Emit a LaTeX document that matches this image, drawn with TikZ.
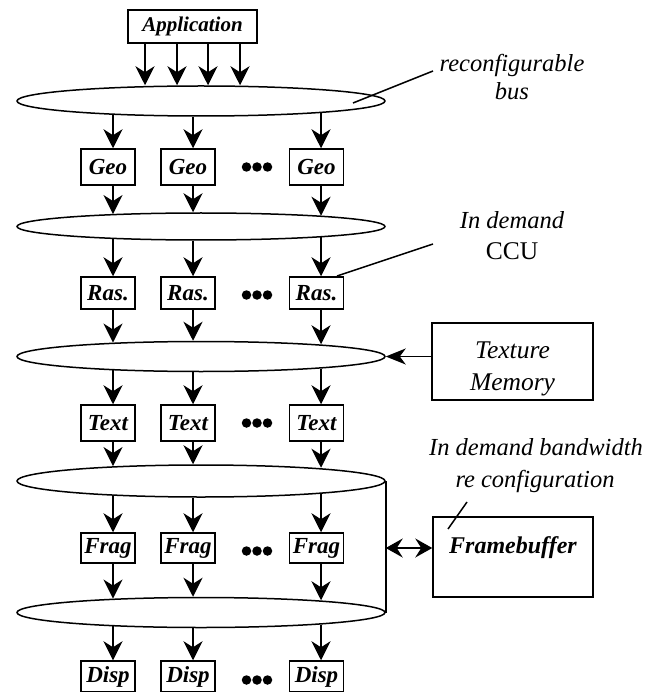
\documentclass[tikz,border=0pt]{standalone}
\usepackage{fontspec}
\setmainfont{Liberation Serif}
\usetikzlibrary{shapes.geometric,arrows.meta,calc}
\begin{document}
\begin{tikzpicture}[x=1pt,y=-1pt,
  lw/.style={line width=1.5pt},
  stagebox/.style={draw,line width=1.5pt,minimum width=54pt,inner sep=0pt,font=\fontsize{23pt}{27pt}\selectfont\bfseries\itshape},
  bigbox/.style={draw,line width=1.5pt,minimum width=161pt,inner sep=0pt},
  bus/.style={draw,ellipse,line width=1.5pt,minimum width=368pt,minimum height=30pt,inner sep=0pt},
  arr/.style={line width=1.5pt,-{Stealth[length=19pt,width=19pt,inset=6pt]}},
  darr/.style={line width=1.5pt,{Stealth[length=17pt,width=19pt,inset=6pt]}-{Stealth[length=17pt,width=19pt,inset=6pt]}},
  dotmark/.style={circle,fill,inner sep=0pt,minimum size=9.5pt},
  note/.style={font=\fontsize{24.5pt}{28pt}\selectfont\itshape,anchor=base,inner sep=0pt},
  lead/.style={line width=1.5pt}
]
\useasboundingbox (0,0) rectangle (662,692);

% application
\node[draw,line width=1.5pt,minimum width=129pt,minimum height=33pt,inner sep=0pt,
      font=\fontsize{21pt}{25pt}\selectfont\bfseries\itshape] (app) at (192.5,26.5) {Application};

% buses
\node[bus] (e1) at (201,101) {};
\node[bus,minimum height=27pt] (e2) at (201,226.5) {};
\node[bus] (e3) at (201,356.5) {};
\node[bus,minimum height=32pt] (e4) at (201,481) {};
\node[bus] (e5) at (201,612.5) {};

% column coordinates
\coordinate (col1) at (113,0);
\coordinate (col2) at (193,0);
\coordinate (col3) at (321,0);
\foreach \i/\x in {1/145,2/177,3/208,4/240} \coordinate (a\i) at (\x,0);

% stage rows
\foreach \rw/\t/\y/\h in {geo/Geo/167/36, ras/Ras./293/32, tex/Text/423/36, frag/Frag/548/30, disp/Disp/676.5/31}{
  \node[stagebox,minimum height=\h pt] (\rw1) at (108,\y) {\t};
  \node[stagebox,minimum height=\h pt] (\rw2) at (188,\y) {\t};
  \node[stagebox,minimum height=\h pt] (\rw3) at (316.5,\y) {\t};
}
% dots
\foreach \rw/\y in {geo/167, ras/295, tex/423, frag/551, disp/680}{
  \node[dotmark] (\rw d1) at (246.5,\y) {};
  \node[dotmark] (\rw d2) at (257,\y) {};
  \node[dotmark] (\rw d3) at (267.5,\y) {};
}

% application arrows
\foreach \i in {1,2,3,4} \draw[arr] (app.south -| a\i) -- (e1.north -| a\i);

% bus -> stage -> bus arrows
\foreach \e/\rw/\n in {e1/geo/e2, e2/ras/e3, e3/tex/e4, e4/frag/e5}{
  \draw[arr,shorten <=-1.8pt] (\e.south -| col1) -- (\rw1.north -| col1);
  \draw[arr] (\e.south -| col2) -- (\rw2.north -| col2);
  \draw[arr,shorten <=-3.5pt] (\e.south -| col3) -- (\rw3.north -| col3);
  \draw[arr,shorten >=-1.8pt] (\rw1.south -| col1) -- (\n.north -| col1);
  \draw[arr] (\rw2.south -| col2) -- (\n.north -| col2);
  \draw[arr,shorten >=-3.5pt] (\rw3.south -| col3) -- (\n.north -| col3);
}
\draw[arr,shorten <=-1.8pt] (e5.south -| col1) -- (disp1.north -| col1);
\draw[arr] (e5.south -| col2) -- (disp2.north -| col2);
\draw[arr,shorten <=-3.5pt] (e5.south -| col3) -- (disp3.north -| col3);

% texture memory
\node[bigbox,minimum height=77pt] (tm) at (512.5,361.5) {};
\node[note,font=\fontsize{25.5pt}{30pt}\selectfont\itshape] (tmt1) at (512.5,358) {Texture};
\node[note,font=\fontsize{25.5pt}{30pt}\selectfont\itshape] (tmt2) at (512.5,390) {Memory};
\draw[arr,-{Stealth[length=20pt,width=16pt,inset=6pt]}] (tm.west |- e3) -- (e3.east);

% framebuffer
\node[bigbox,minimum width=160pt,minimum height=80pt] (fb) at (513,557) {};
\node[font=\fontsize{24pt}{28pt}\selectfont\bfseries\itshape,inner sep=0pt] (fbt) at (513,548) {Framebuffer};
\draw[lw] (e4.east) -- (e5.east);
\draw[darr] (e4.east |- fbt) -- (fb.west |- fbt);

% annotations
\node[note] (n1a) at (512,72) {reconfigurable};
\node[note] (n1b) at (512,100) {bus};
\coordinate (l1a) at (433,71);
\coordinate (l1b) at (353,103);
\draw[lead] (l1a) -- (l1b);

\node[note] (n2a) at (512,229) {In demand};
\node[note,font=\fontsize{25.5pt}{30pt}\selectfont\upshape] (n2b) at (512,259) {CCU};
\coordinate (l2a) at (433,244);
\coordinate (l2b) at (337,276);
\draw[lead] (l2a) -- (l2b);

\node[note] (n3a) at (536,455) {In demand bandwidth};
\node[note] (n3b) at (535,487) {re configuration};
\coordinate (l3a) at (467,502);
\coordinate (l3b) at (448,529);
\draw[lead] (l3a) -- (l3b);
\end{tikzpicture}
\end{document}
